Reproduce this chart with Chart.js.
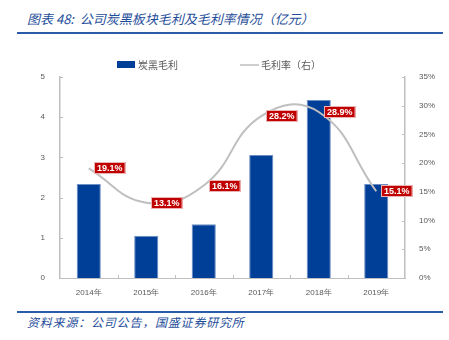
<!DOCTYPE html>
<html>
<head>
<meta charset="utf-8">
<script src="https://cdn.jsdelivr.net/npm/chart.js@4"></script>
<style>
  body { margin: 0; background: #fff; width: 449px; height: 340px; position: relative; overflow: hidden; }
  .title { position: absolute; left: 27px; top: 9px; font: italic 13px "Noto Sans CJK SC", sans-serif; color: #1f4e9a; }
  .rule { position: absolute; left: 17px; width: 426px; height: 2px; background: #2a5caa; }
  .source { position: absolute; left: 27px; top: 313px; font: italic 12px "Noto Sans CJK SC", sans-serif; color: #1f4e9a; letter-spacing: 0.8px; }
  #chart { position: absolute; left: 0; top: 0; }
</style>
</head>
<body>
<div class="title">图表 48:&nbsp; 公司炭黑板块毛利及毛利率情况（亿元）</div>
<div class="rule" style="top:32px"></div>
<div class="rule" style="top:311px"></div>
<div class="source">资料来源：公司公告，国盛证券研究所</div>
<canvas id="chart" width="449" height="340"></canvas>
<script>
var years = ['2014年', '2015年', '2016年', '2017年', '2018年', '2019年'];
var grossProfit = [2.34, 1.05, 1.34, 3.06, 4.43, 2.34];   // 亿元
var grossMargin = [19.1, 13.1, 16.1, 28.2, 28.9, 15.1];   // %

var barBlue = '#003f98';
var axisGrey = '#bfbfbf';
var tickFont = { family: 'Liberation Sans, Arial, sans-serif', size: 8 };

// legend, inner tick marks and the red value tags
var decorations = {
  id: 'decorations',
  afterDatasetsDraw: function (chart) {
    var ctx = chart.ctx;
    var area = chart.chartArea;
    var x = chart.scales.x, y = chart.scales.y, y1 = chart.scales.y1;
    var sets = chart.data.datasets;

    ctx.save();
    ctx.strokeStyle = axisGrey;
    ctx.lineWidth = 1;
    ctx.beginPath();
    y.ticks.forEach(function (t, i) {
      var py = Math.round(y.getPixelForTick(i)) + 0.5;
      ctx.moveTo(area.left, py); ctx.lineTo(area.left + 3, py);
    });
    y1.ticks.forEach(function (t, i) {
      var py = Math.round(y1.getPixelForTick(i)) + 0.5;
      ctx.moveTo(area.right - 3, py); ctx.lineTo(area.right, py);
    });
    for (var i = 1; i < years.length; i++) {
      var px = Math.round((x.getPixelForValue(i - 1) + x.getPixelForValue(i)) / 2) + 0.5;
      ctx.moveTo(px, area.bottom); ctx.lineTo(px, area.bottom - 3);
    }
    ctx.stroke();

    // value tags on the margin line
    var meta = chart.getDatasetMeta(0);
    ctx.font = 'bold 9px "Liberation Sans", Arial, sans-serif';
    ctx.textBaseline = 'middle';
    meta.data.forEach(function (pt, i) {
      var text = grossMargin[i].toFixed(1) + '%';
      var w = ctx.measureText(text).width + 6;
      var bx = Math.round(pt.x + 5), by = Math.round(pt.y - 6);
      ctx.fillStyle = '#c00000';
      ctx.fillRect(bx, by, w, 12);
      ctx.strokeStyle = 'rgba(255,255,255,0.7)';
      ctx.strokeRect(bx + 0.5, by + 0.5, w - 1, 11);
      ctx.fillStyle = '#fff';
      ctx.fillText(text, bx + 3, by + 6.5);
    });

    // legend
    ctx.font = '10px "Noto Sans CJK SC", sans-serif';
    ctx.fillStyle = barBlue;
    ctx.fillRect(117, 61, 18, 7);
    ctx.fillStyle = '#595959';
    ctx.fillText(sets[1].label, 138, 65);
    ctx.strokeStyle = axisGrey;
    ctx.lineWidth = 1.5;
    ctx.beginPath(); ctx.moveTo(240, 65); ctx.lineTo(259, 65); ctx.stroke();
    ctx.fillText(sets[0].label, 261, 65);
    ctx.restore();
  }
};

new Chart(document.getElementById('chart'), {
  data: {
    labels: years,
    datasets: [
      {
        type: 'line',
        label: '毛利率（右）',
        data: grossMargin,
        yAxisID: 'y1',
        borderColor: axisGrey,
        borderWidth: 2,
        pointRadius: 0,
        tension: 0.45,
        order: 0
      },
      {
        type: 'bar',
        label: '炭黑毛利',
        data: grossProfit,
        yAxisID: 'y',
        backgroundColor: barBlue,
        borderColor: '#6f8fc4',
        borderWidth: { top: 1, left: 1, right: 1, bottom: 0 },
        categoryPercentage: 1,
        barPercentage: 0.42,
        order: 1
      }
    ]
  },
  options: {
    responsive: false,
    animation: false,
    devicePixelRatio: 1,
    layout: { padding: { top: 77, bottom: 42, left: 0, right: 0 } },
    plugins: { legend: { display: false }, tooltip: { enabled: false } },
    scales: {
      x: {
        grid: { display: false },
        border: { color: axisGrey, width: 1 },
        ticks: { color: '#595959', font: tickFont, padding: 2, maxRotation: 0 },
        afterFit: function (s) { s.height = 20; }
      },
      y: {
        position: 'left',
        min: 0, max: 5,
        grid: { display: false },
        border: { color: axisGrey, width: 1.5 },
        ticks: { stepSize: 1, color: '#595959', font: tickFont, padding: 7 },
        afterFit: function (s) { s.width = 60; }
      },
      y1: {
        position: 'right',
        min: 0, max: 35,
        grid: { display: false },
        border: { color: axisGrey, width: 1.5 },
        ticks: { stepSize: 5, color: '#595959', font: tickFont, padding: 6,
                 callback: function (v) { return v + '%'; } },
        afterFit: function (s) { s.width = 44; }
      }
    }
  },
  plugins: [decorations]
});
</script>
</body>
</html>
